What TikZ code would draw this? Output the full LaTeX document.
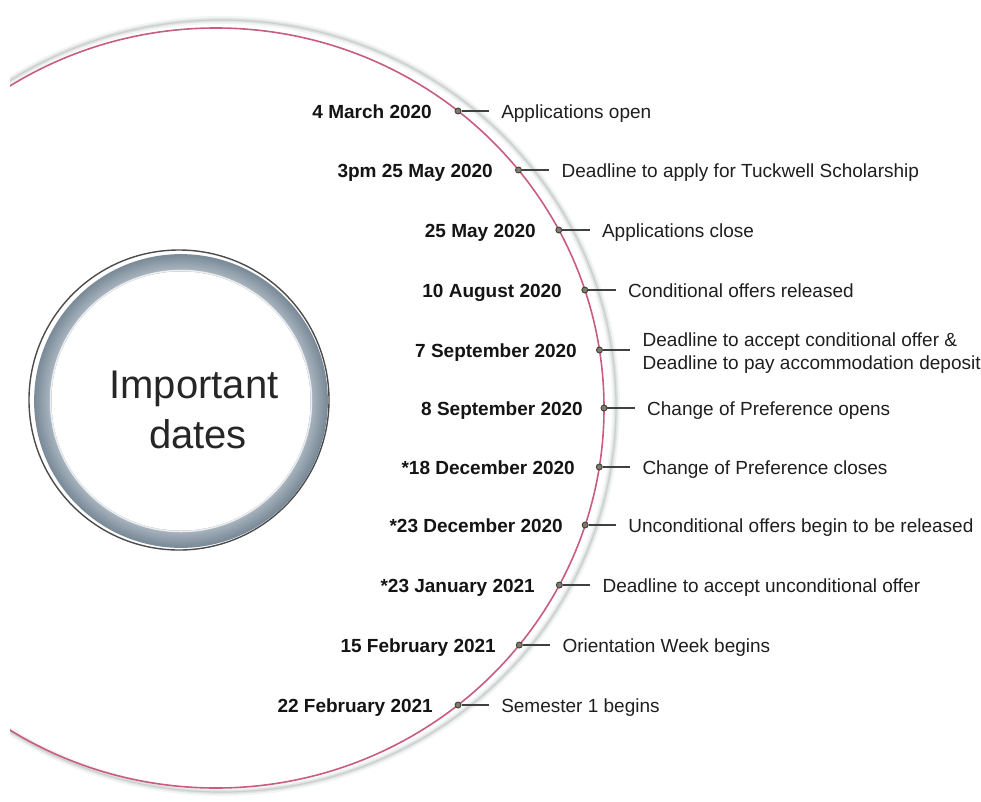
\documentclass[tikz,border=0pt]{standalone}
\usepackage{fontspec}
\setmainfont{Liberation Sans}
\definecolor{pinkline}{RGB}{201,92,128}
\definecolor{ringdark}{RGB}{120,136,150}
\definecolor{ringlight}{RGB}{196,206,214}
\definecolor{dotfill}{RGB}{125,125,100}
\definecolor{shadowc}{RGB}{195,204,202}
\newcommand\dateitem[6]{%
  \pgfmathsetmacro\dotx{216+388*sqrt(1-((#2-408)/380)^2)}
  \node[dotmark] (#1dot) at (\dotx,#2) {};
  \coordinate (#1end) at (\dotx+31,#2);
  \draw[tickline] (#1dot.east) -- (#1end);
  \node[datelabel] (#1date) at (#3,#2+7) {#4};
  \node[desclabel] (#1desc) at (\dotx+43,#2+7+#6) {#5};
}
\begin{document}
\begin{tikzpicture}[x=1pt,y=-1pt,
  datelabel/.style={anchor=base east,font=\fontsize{19}{22}\selectfont\bfseries,inner sep=0pt,text=black!92},
  desclabel/.style={anchor=base west,font=\fontsize{19}{23}\selectfont,inner sep=0pt,align=left,text=black!88},
  dotmark/.style={circle,draw=black!75,fill=dotfill,line width=0.9pt,minimum size=6pt,inner sep=0pt},
  tickline/.style={draw=black!75,line width=1.1pt},
  titlelabel/.style={anchor=base,font=\fontsize{40}{50}\selectfont,inner sep=0pt,text=black!85}]
\useasboundingbox (0,0) rectangle (981,801);
\fill[white] (0,0) rectangle (981,801);
% big arc
\begin{scope}
  \clip (10,0) rectangle (981,801);
  \draw[shadowc, line width=8pt, opacity=0.2] (222,406) ellipse[x radius=394,y radius=386];
  \draw[shadowc, line width=4pt, opacity=0.4] (222,406) ellipse[x radius=394,y radius=386];
  \draw[shadowc!85!black, line width=1.2pt, opacity=0.35] (222,406) ellipse[x radius=394,y radius=386];
  \draw[pinkline,line width=1.6pt] (216,408) ellipse[x radius=388, y radius=380];
\end{scope}
% inner ring
\draw[black!70, line width=1.4pt] (179,400) circle[radius=150];
\fill[ringdark!55!ringlight] (181,401) circle[radius=146];
\foreach \i in {0,...,16} {
  \pgfmathsetmacro\rr{130+\i}
  \pgfmathtruncatemacro\mm{30+4*\i}
  \draw[color=ringdark!\mm!ringlight, line width=1.8pt] (181,401) circle[radius=\rr];
}
\fill[white] (181,401) circle[radius=129.5];
\draw[white!85!ringdark, line width=1.5pt] (181,401) circle[radius=130.5];
\node[titlelabel] (title1) at (194,398) {Important};
\node[titlelabel] (title2) at (198,448) {dates};
% items
\dateitem{a}{111}{432}{4 March 2020}{Applications open}{0}
\dateitem{b}{170}{493}{3pm 25 May 2020}{Deadline to apply for Tuckwell Scholarship}{0}
\dateitem{c}{230}{536}{25 May 2020}{Applications close}{0}
\dateitem{d}{290}{562}{10 August 2020}{Conditional offers released}{0}
\dateitem{e}{350}{577}{7 September 2020}{Deadline to accept conditional offer \&\\Deadline to pay accommodation deposit}{12}
\dateitem{f}{408}{583}{8 September 2020}{Change of Preference opens}{0}
\dateitem{g}{467}{575}{*18 December 2020}{Change of Preference closes}{0}
\dateitem{h}{525}{563}{*23 December 2020}{Unconditional offers begin to be released}{0}
\dateitem{i}{585}{535}{*23 January 2021}{Deadline to accept unconditional offer}{0}
\dateitem{j}{645}{496}{15 February 2021}{Orientation Week begins}{0}
\dateitem{k}{705}{433}{22 February 2021}{Semester 1 begins}{0}
\end{tikzpicture}
\end{document}
